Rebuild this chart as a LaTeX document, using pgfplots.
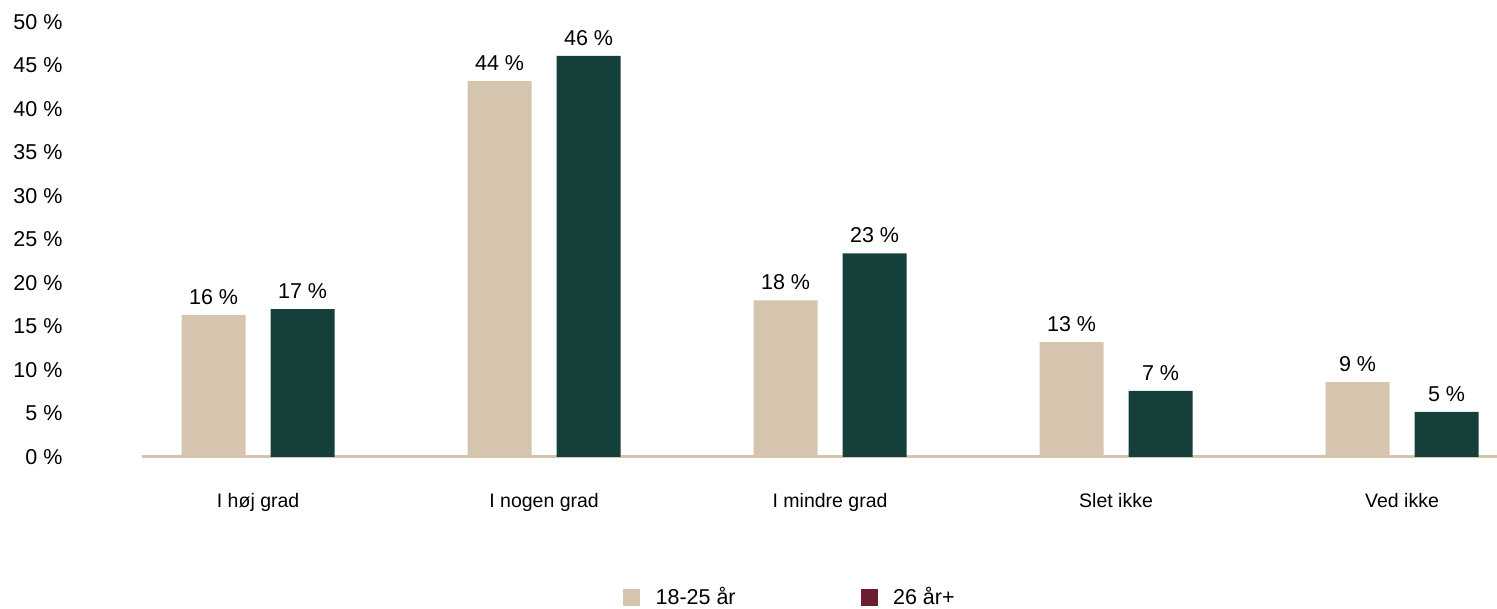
\documentclass[border=0pt]{standalone}
\usepackage{pgfplots}
\pgfplotsset{compat=1.18}
\usepackage{fontspec}
\setmainfont{Liberation Sans}
\definecolor{beige}{HTML}{D5C4AE}
\definecolor{dgreen}{HTML}{153F3A}
\definecolor{dred}{HTML}{6B1F2E}
\pgfplotstableread{
x y lab
0 16.3 16
1 43.2 44
2 18.0 18
3 13.2 13
4 8.6 9
}\young
\pgfplotstableread{
x y lab
0 17.0 17
1 46.1 46
2 23.4 23
3 7.6 7
4 5.2 5
}\old
\begin{document}
\begin{tikzpicture}[x=1pt,y=1pt]
\path[use as bounding box] (0,0) rectangle (1497,609);
\begin{axis}[
  at={(142pt,152pt)}, anchor=south west,
  width=1355pt, height=435pt, scale only axis,
  xmin=-0.406, xmax=4.332, ymin=0, ymax=50,
  clip=false,
  separate axis lines,
  axis x line*=bottom,
  axis y line*=left,
  x axis line style={draw=beige, line width=3pt},
  y axis line style={draw=none},
  major tick length=0pt,
  xtick={0,1,2,3,4},
  xticklabels={I høj grad, I nogen grad, I mindre grad, Slet ikke, Ved ikke},
  xticklabel style={font=\fontsize{19.5}{22}\selectfont, yshift=-33pt},
  ytick={0,5,...,50},
  yticklabels={0 \%,5 \%,10 \%,15 \%,20 \%,25 \%,30 \%,35 \%,40 \%,45 \%,50 \%},
  yticklabel style={font=\fontsize{21.5}{24}\selectfont, xshift=-76pt},
  ybar, bar width=64pt,
  point meta=explicit,
  nodes near coords={\pgfmathprintnumber[assume math mode=true]{\pgfplotspointmeta}\ \%},
  every node near coord/.append style={font=\fontsize{21.5}{24}\selectfont, text=black, yshift=7pt},
  legend columns=2,
  legend style={at={(axis description cs:0.355,-0.3218)}, anchor=west, draw=none, inner sep=0pt,
    font=\fontsize{21.5}{24}\selectfont,
    /tikz/every even column/.append style={column sep=123pt}},
]
\addplot[fill=beige, draw=none, bar shift=-44.5pt, forget plot] table[x=x,y=y,meta=lab]{\young};
\addplot[fill=dgreen, draw=none, bar shift=44.5pt, forget plot] table[x=x,y=y,meta=lab]{\old};
\addlegendimage{legend image code/.code={\fill[beige] (0pt,-8pt) rectangle (16pt,8pt); \path (30pt,0pt);}}
\addlegendentry{18-25 år}
\addlegendimage{legend image code/.code={\fill[dred] (0pt,-8pt) rectangle (16pt,8pt); \path (30pt,0pt);}}
\addlegendentry{26 år+}
\end{axis}
\end{tikzpicture}
\end{document}
